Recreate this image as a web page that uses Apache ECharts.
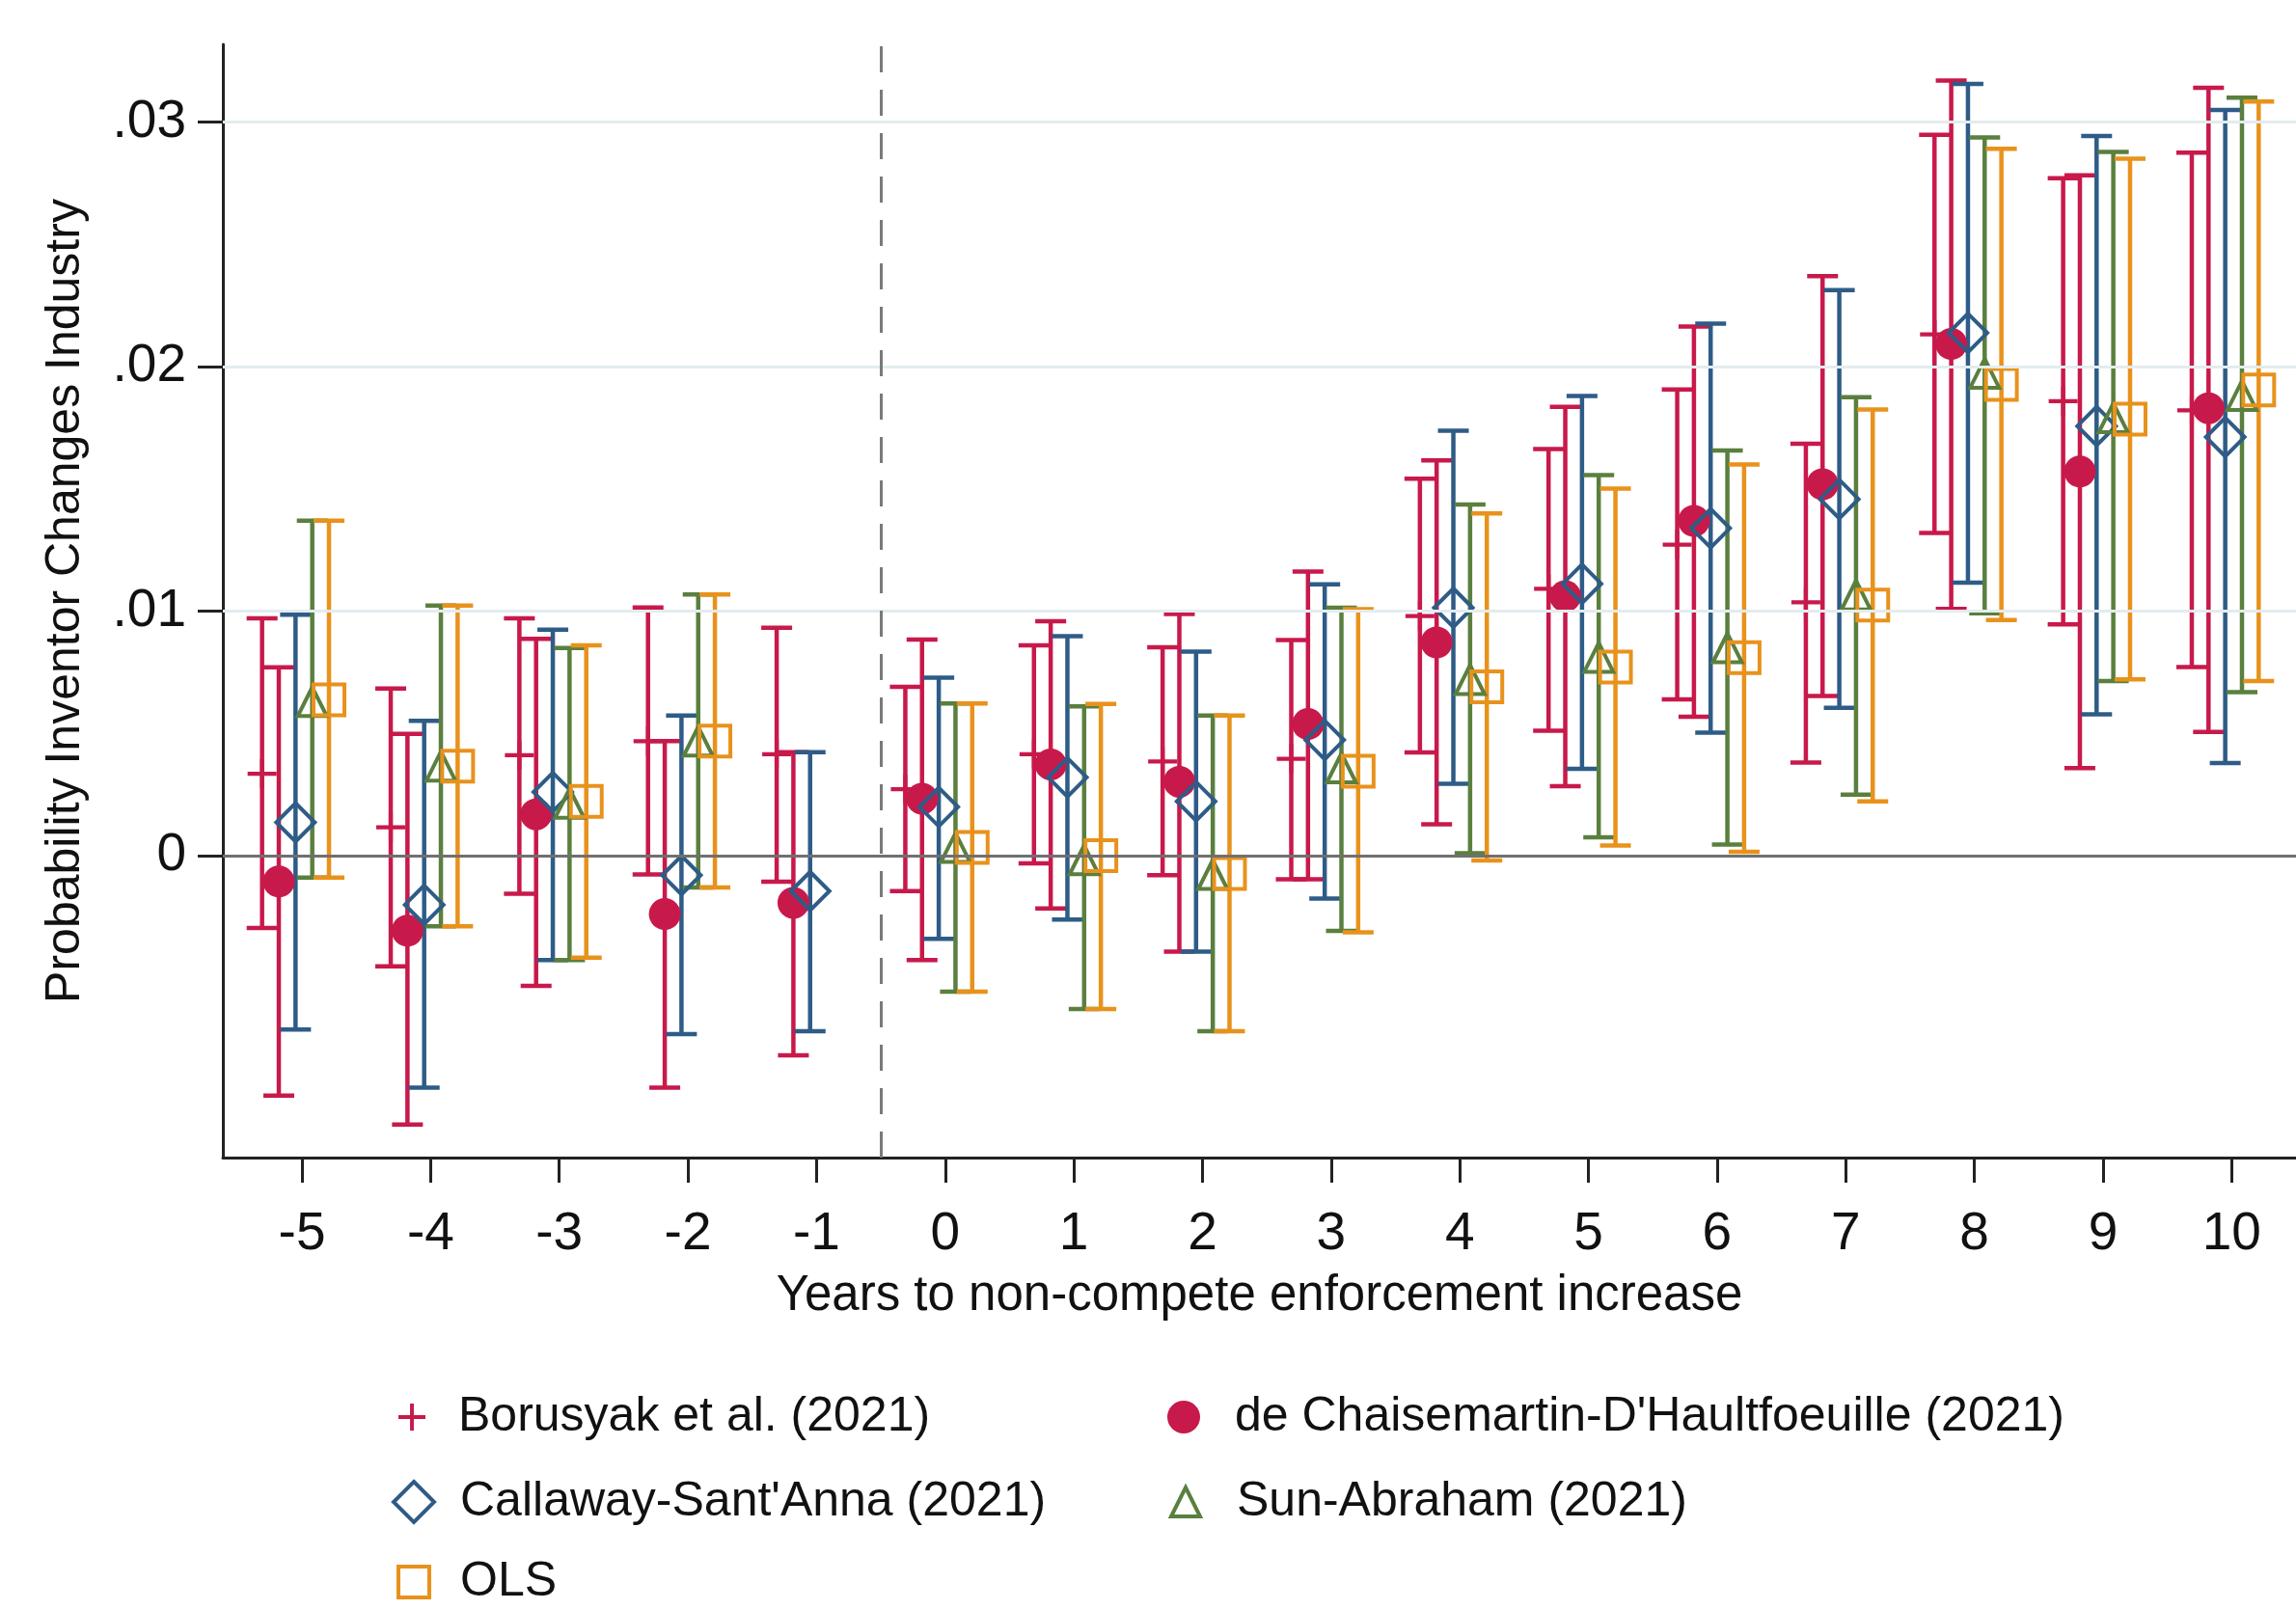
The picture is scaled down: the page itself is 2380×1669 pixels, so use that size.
<!DOCTYPE html>
<html>
<head>
<meta charset="utf-8">
<script src="https://cdn.jsdelivr.net/npm/echarts@6/dist/echarts.min.js"></script>
<style>
  html, body { margin: 0; padding: 0; background: #ffffff; }
  #chart { width: 2380px; height: 1669px; }
</style>
</head>
<body>
<div id="chart"></div>
<script>
// ---------------- DATA ----------------
const periods = [-5, -4, -3, -2, -1, 0, 1, 2, 3, 4, 5, 6, 7, 8, 9, 10];
const yTickValues = [0, 0.01, 0.02, 0.03];

const borusyakEst = [0.00335, 0.00116, 0.00411, 0.00468, 0.00415, 0.00272, 0.00415, 0.00385, 0.00396, 0.0098, 0.01091, 0.01272, 0.01036, 0.02132, 0.01859, 0.01821];
const borusyakLo  = [-0.00296, -0.00453, -0.00156, -0.00077, -0.00107, -0.00145, -0.00032, -0.0008, -0.00097, 0.00422, 0.00511, 0.00639, 0.00381, 0.0132, 0.00946, 0.00771];
const borusyakHi  = [0.0097, 0.00683, 0.0097, 0.01015, 0.00932, 0.0069, 0.0086, 0.00852, 0.00882, 0.01542, 0.01663, 0.01907, 0.01685, 0.02948, 0.02771, 0.02875];

const dcdhEst = [-0.00106, -0.00307, 0.00169, -0.00239, -0.00193, 0.00233, 0.00373, 0.00302, 0.00538, 0.00872, 0.01061, 0.01369, 0.01519, 0.02093, 0.01571, 0.0183];
const dcdhLo  = [-0.00982, -0.0110, -0.00533, -0.00949, -0.00817, -0.00427, -0.00216, -0.00393, -0.00097, 0.00128, 0.00284, 0.00568, 0.00653, 0.01009, 0.00358, 0.00506];
const dcdhHi  = [0.0077, 0.00498, 0.00887, 0.00468, 0.00423, 0.00884, 0.00959, 0.00988, 0.01162, 0.01617, 0.01836, 0.02164, 0.0237, 0.0317, 0.02782, 0.0314];

const csEst = [0.00136, -0.00201, 0.0026, -0.0008, -0.00145, 0.00199, 0.0032, 0.00222, 0.00473, 0.01014, 0.01112, 0.01339, 0.01458, 0.02138, 0.01757, 0.01712];
const csLo  = [-0.00711, -0.00949, -0.00427, -0.0073, -0.00718, -0.0034, -0.00261, -0.00393, -0.00176, 0.00294, 0.00355, 0.00503, 0.00605, 0.01116, 0.00578, 0.00379];
const csHi  = [0.00985, 0.00551, 0.00924, 0.00573, 0.00423, 0.00728, 0.00897, 0.00834, 0.0111, 0.01738, 0.0188, 0.02176, 0.02313, 0.03156, 0.02943, 0.0305];

const saEst = [0.0063, 0.00366, 0.00214, 0.00468, null, 0.00033, -0.00017, -0.00077, 0.00359, 0.0072, 0.00811, 0.0085, 0.01066, 0.01973, 0.01791, 0.01882];
const saLo  = [-0.0009, -0.00289, -0.00427, -0.0013, null, -0.00556, -0.00627, -0.00718, -0.00308, 0.0001, 0.00075, 0.00045, 0.00249, 0.00991, 0.00714, 0.00669];
const saHi  = [0.0137, 0.01023, 0.00849, 0.01068, null, 0.00622, 0.0061, 0.00573, 0.01014, 0.01436, 0.01556, 0.01657, 0.01875, 0.02937, 0.02878, 0.031];

const olsEst = [0.00637, 0.00366, 0.00222, 0.00468, null, 0.00033, 0.0000, -0.00073, 0.00345, 0.0069, 0.00771, 0.0081, 0.01025, 0.01927, 0.01785, 0.01905];
const olsLo  = [-0.0009, -0.00289, -0.00417, -0.0013, null, -0.00556, -0.00627, -0.00718, -0.00314, -0.0002, 0.00041, 0.00016, 0.00222, 0.00964, 0.00721, 0.00714];
const olsHi  = [0.0137, 0.01023, 0.0086, 0.01068, null, 0.00622, 0.0062, 0.00573, 0.01008, 0.014, 0.01501, 0.016, 0.01825, 0.02891, 0.0285, 0.03084];

// ---------------- STYLE ----------------
const FONT = '"Liberation Sans Narrow", "Arial Narrow", "Liberation Sans", Arial, sans-serif';
const plusPath = 'path://M-1,-0.14L1,-0.14L1,0.14L-1,0.14Z M-0.14,-1L0.14,-1L0.14,1L-0.14,1Z';

// legend placement: icon centre x/y, icon size, text start x
const estimators = [
  { name: 'Borusyak et al. (2021)', est: borusyakEst, lo: borusyakLo, hi: borusyakHi,
    color: '#C8194B', off: -0.31, symbol: plusPath, size: 30, filled: true,
    lg: { cx: 427, cy: 1468, w: 28, tx: 475 } },
  { name: "de Chaisemartin-D'Haultfoeuille (2021)", est: dcdhEst, lo: dcdhLo, hi: dcdhHi,
    color: '#C8194B', off: -0.18, symbol: 'circle', size: 33, filled: true,
    lg: { cx: 1227, cy: 1468, w: 34, tx: 1280 } },
  { name: "Callaway-Sant'Anna (2021)", est: csEst, lo: csLo, hi: csHi,
    color: '#2E5C87', off: -0.05, symbol: 'diamond', size: 40, filled: false,
    lg: { cx: 427, cy: 1556, w: 42, tx: 475 } },
  { name: 'Sun-Abraham (2021)', est: saEst, lo: saLo, hi: saHi,
    color: '#5A7F3E', off: 0.08, symbol: 'triangle', size: 30, filled: false,
    lg: { cx: 1227, cy: 1556, w: 30, tx: 1280 } },
  { name: 'OLS', est: olsEst, lo: olsLo, hi: olsHi,
    color: '#E8921C', off: 0.21, symbol: 'rect', size: 32, filled: false,
    lg: { cx: 427, cy: 1639, w: 32, tx: 475 } }
];

const LW = 4.5;
const CAP = 16;
const LEGEND_LH = 48;

const series = [];

// helper series for grid lines / zero line / event line
series.push({
  type: 'scatter', name: '_ref', data: [], silent: true, z: 1,
  markLine: {
    silent: true, symbol: ['none', 'none'], label: { show: false }, animation: false,
    data: [
      { yAxis: 0.01, lineStyle: { color: '#E3ECEE', width: 3, type: 'solid' } },
      { yAxis: 0.02, lineStyle: { color: '#E3ECEE', width: 3, type: 'solid' } },
      { yAxis: 0.03, lineStyle: { color: '#E3ECEE', width: 3, type: 'solid' } },
      { yAxis: 0, lineStyle: { color: '#707070', width: 3, type: 'solid' } },
      { xAxis: -0.5, lineStyle: { color: '#7A7A7A', width: 3, type: [27, 18] } }
    ]
  }
});

estimators.forEach(function (e) {
  const ciData = [];
  periods.forEach(function (p, i) {
    if (e.est[i] === null) return;
    ciData.push([p + e.off, e.lo[i], e.hi[i]]);
  });
  series.push({
    type: 'custom', name: e.name + ' CI', z: 2, silent: true,
    data: ciData,
    encode: { x: 0, y: [1, 2] },
    renderItem: function (params, api) {
      const x = api.value(0);
      const pLo = api.coord([x, api.value(1)]);
      const pHi = api.coord([x, api.value(2)]);
      const st = { stroke: e.color, lineWidth: LW, fill: null };
      return {
        type: 'group',
        children: [
          { type: 'line', shape: { x1: pLo[0], y1: pLo[1], x2: pHi[0], y2: pHi[1] }, style: st },
          { type: 'line', shape: { x1: pLo[0] - CAP, y1: pLo[1], x2: pLo[0] + CAP, y2: pLo[1] }, style: st },
          { type: 'line', shape: { x1: pHi[0] - CAP, y1: pHi[1], x2: pHi[0] + CAP, y2: pHi[1] }, style: st }
        ]
      };
    }
  });
});

estimators.forEach(function (e) {
  const ptData = [];
  periods.forEach(function (p, i) {
    if (e.est[i] === null) return;
    ptData.push([p + e.off, e.est[i]]);
  });
  series.push({
    type: 'scatter', name: e.name, z: 3,
    data: ptData,
    symbol: e.symbol,
    symbolSize: e.size,
    itemStyle: e.filled
      ? { color: e.color, borderWidth: 0, opacity: 1 }
      : { color: 'rgba(255,255,255,0)', borderColor: e.color, borderWidth: 4, opacity: 1 }
  });
});

const legends = estimators.map(function (e) {
  const w = e.lg.w;
  const h = Math.max(w, LEGEND_LH);
  const left = e.lg.cx - w / 2;
  const pad = e.lg.tx - (left + w + 5);
  return {
    data: [e.name],
    orient: 'vertical',
    left: left, top: e.lg.cy - h / 2, padding: 0,
    itemWidth: w, itemHeight: w,
    itemStyle: e.filled ? { borderWidth: 0 } : { borderWidth: 4, borderColor: e.color, color: 'rgba(255,255,255,0)' },
    textStyle: { fontFamily: FONT, fontSize: 50, color: '#111111', lineHeight: LEGEND_LH, padding: [0, 0, 0, pad] },
    selectedMode: false
  };
});

const option = {
  backgroundColor: '#ffffff',
  animation: false,
  grid: { left: 231, right: 0, top: 46, bottom: 469, containLabel: false },
  xAxis: {
    type: 'value', min: -5.615, max: 10.5,
    axisLine: { show: true, onZero: false, lineStyle: { color: '#222222', width: 3 } },
    axisTick: { show: true, length: 26, lineStyle: { color: '#222222', width: 3 }, customValues: periods },
    axisLabel: { show: true, customValues: periods, margin: 52, fontFamily: FONT, fontSize: 55, color: '#111111',
      formatter: function (v) { return String(Math.round(v)); } },
    splitLine: { show: false },
    name: 'Years to non-compete enforcement increase', nameLocation: 'middle', nameGap: 118,
    nameTextStyle: { fontFamily: FONT, fontSize: 51, color: '#111111' }
  },
  yAxis: {
    type: 'value', min: -0.01235, max: 0.03318,
    axisLine: { show: true, onZero: false, lineStyle: { color: '#222222', width: 3 } },
    axisTick: { show: true, length: 26, lineStyle: { color: '#222222', width: 3 }, customValues: yTickValues },
    axisLabel: { show: true, customValues: yTickValues, margin: 38, fontFamily: FONT, fontSize: 55, color: '#111111',
      formatter: function (v) { return Math.abs(v) < 1e-9 ? '0' : v.toFixed(2).replace(/^0/, ''); } },
    splitLine: { show: false },
    name: 'Probability Inventor Changes Industry', nameLocation: 'middle', nameGap: 138, nameRotate: 90,
    nameTextStyle: { fontFamily: FONT, fontSize: 50, color: '#111111' }
  },
  legend: legends,
  series: series
};

const chart = echarts.init(document.getElementById('chart'), null, { renderer: 'canvas' });
chart.setOption(option);
</script>
</body>
</html>
